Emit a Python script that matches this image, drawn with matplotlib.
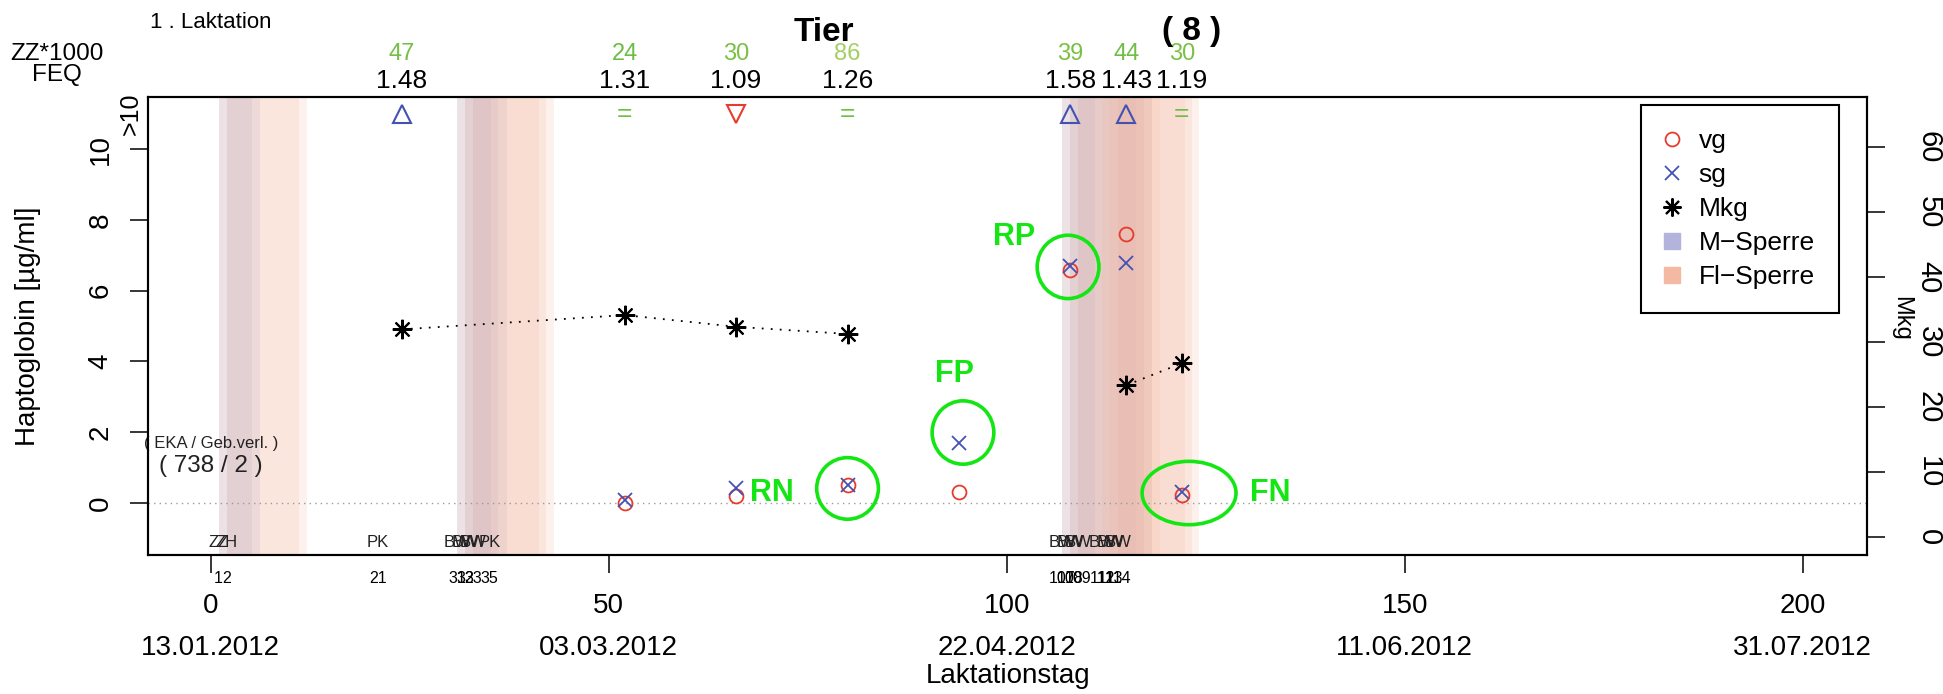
import numpy as np
import matplotlib
matplotlib.use("Agg")
import matplotlib.pyplot as plt
from matplotlib.lines import Line2D
from matplotlib.patches import Ellipse
from matplotlib.transforms import blended_transform_factory

plt.rcParams['font.family'] = ['Liberation Sans', 'DejaVu Sans']

# ---------------- data ----------------
days = [24, 52, 66, 80, 94, 108, 115, 122]
zz1000 = ['47', '24', '30', '86', '', '39', '44', '30']
zz_colors = ['#74BF45', '#6CBD45', '#79C145', '#A3CF62', '#FFFFFF', '#79C145', '#6EBE45', '#7AC145']
feq = ['1.48', '1.31', '1.09', '1.26', '', '1.58', '1.43', '1.19']
vg = [np.nan, 0.0, 0.19, 0.5, 0.3, 6.58, 7.59, 0.23]
sg = [np.nan, 0.09, 0.42, 0.52, 1.69, 6.70, 6.79, 0.30]
mkg = [31.9, 34.1, 32.3, 31.2, np.nan, np.nan, 23.3, 26.7]
status = ['up', '=', 'down', '=', '', 'up', 'up', '=']

event_days = [1, 2, 21, 31, 32, 33, 35, 107, 108, 109, 112, 113, 114]
event_codes = ['ZZ', 'ZH', 'PK', 'BW', 'BW', 'BW', 'PK', 'BW', 'BW', 'BW', 'BW', 'BW', 'BW']

sperre_start = [1, 2, 31, 32, 33, 107, 108, 109, 112, 113, 114]
m_sperre_end = [5.15, 6.2, 35.2, 36.1, 37.2, 111.1, 112.0, 113.1, 116.2, 117.2, 118.2]
fl_sperre_end = [11.1, 12.07, 41.2, 42.1, 43.1, 117.2, 118.2, 119.3, 122.4, 123.3, 124.2]

x_ticks = [0, 50, 100, 150, 200]
x_dates = ['13.01.2012', '03.03.2012', '22.04.2012', '11.06.2012', '31.07.2012']
y_ticks = [0, 2, 4, 6, 8, 10]
mkg_ticks = [0, 10, 20, 30, 40, 50, 60]

# annotations: label, label x, label y, ellipse cx, cy, width, height
ann_labels = ['RP', 'FP', 'RN', 'FN']
ann_text_x = [100.9, 93.4, 70.55, 133.1]
ann_text_y = [7.51, 3.65, 0.27, 0.29]
ann_cx = [107.7, 94.5, 80.0, 122.9]
ann_cy = [6.67, 1.99, 0.41, 0.28]
ann_w = [7.76, 7.75, 7.75, 11.8]
ann_h = [1.79, 1.79, 1.74, 1.79]

# ---------------- styling ----------------
RED = '#E63B2E'
BLUE = '#4352B2'
GREEN_ANN = '#14E614'
EQ_GREEN = '#6DBE45'
M_COL = '#B2B4DB'
FL_COL = '#F5B8A2'

W, H = 1943, 694
fig = plt.figure(figsize=(W / 100, H / 100), dpi=100)
L, R, T, B = 148.3, 1867.3, 96.7, 555.3
ax = fig.add_axes([L / W, 1 - B / H, (R - L) / W, (B - T) / H])
ax.set_xlim(-7.84, 208.1)
ax.set_ylim(-1.48, 11.48)

# Sperre bands
for s, e in zip(sperre_start, m_sperre_end):
    ax.axvspan(s, e, color=M_COL, alpha=0.25, lw=0, zorder=0)
for s, e in zip(sperre_start, fl_sperre_end):
    ax.axvspan(s, e, color=FL_COL, alpha=0.19, lw=0, zorder=0)

# zero line
ax.axhline(0, color='#9A9A9A', lw=1.0, dashes=(1, 3), zorder=1)

# vg / sg
ax.plot(days, vg, linestyle='none', marker='o', mfc='none', mec=RED, ms=10, mew=1.3, zorder=3)
ax.plot(days, sg, linestyle='none', marker='x', color=BLUE, ms=10, mew=1.3, zorder=3)

# status markers at top
for d, s in zip(days, status):
    if s == 'up':
        ax.plot(d, 11, marker='^', mfc='none', mec=BLUE, ms=13, mew=1.5, zorder=3)
    elif s == 'down':
        ax.plot(d, 11, marker='v', mfc='none', mec=RED, ms=13, mew=1.5, zorder=3)
    elif s == '=':
        ax.text(d, 11, '=', color=EQ_GREEN, fontsize=19, ha='center', va='center', zorder=3)

# annotations
for lab, tx, ty, cx, cy, w, h in zip(ann_labels, ann_text_x, ann_text_y, ann_cx, ann_cy, ann_w, ann_h):
    ax.add_patch(Ellipse((cx, cy), w, h, fill=False, ec=GREEN_ANN, lw=2.6, zorder=4))
    ax.text(tx, ty, lab, color=GREEN_ANN, fontsize=22, fontweight='bold', ha='center', va='center', zorder=4)

# event codes and days
tr_xa = blended_transform_factory(ax.transData, ax.transAxes)
for d, c in zip(event_days, event_codes):
    ax.text(d, 0.027, c, transform=tr_xa, fontsize=12, ha='center', va='center', color='#222222', zorder=2)
    ax.text(d, -0.0495, str(d), transform=tr_xa, fontsize=11.5, ha='center', va='center', clip_on=False)

# EKA text
ax.text(0, 1.67, '( EKA / Geb.verl. )', fontsize=12, ha='center', va='center', color='#222222')
ax.text(0, 1.05, '( 738 / 2 )', fontsize=17.5, ha='center', va='center', color='#222222')

# axes styling
for sp in ax.spines.values():
    sp.set_linewidth(1.5)
ax.set_xticks(x_ticks)
ax.set_xticklabels([str(t) for t in x_ticks])
ax.set_yticks(y_ticks)
ax.set_yticklabels([str(t) for t in y_ticks])
ax.tick_params(axis='x', length=13, width=1.1, labelsize=20, pad=14)
ax.tick_params(axis='y', length=13, width=1.1, labelsize=20, pad=12, labelrotation=90)
for lab in ax.get_yticklabels():
    lab.set_va('center')
for d, ds in zip(x_ticks, x_dates):
    ax.text(d, -0.2174, ds, transform=tr_xa, fontsize=20, ha='center', va='baseline', clip_on=False)
ax.text(0.5, -0.279, 'Laktationstag', transform=ax.transAxes, fontsize=20, ha='center', va='baseline')
ax.text(-0.070, 0.5, 'Haptoglobin [µg/ml]', transform=ax.transAxes, fontsize=20, rotation=90,
        ha='center', va='center')
ax.text(-0.0100, 11, '>10', transform=blended_transform_factory(ax.transAxes, ax.transData),
        fontsize=18, rotation=90, ha='center', va='center', clip_on=False)

# right axis Mkg
ax2 = ax.twinx()
ax2.set_ylim(-2.86, 67.7)
ax2.plot(days, mkg, color='black', lw=1.3, dashes=(1, 4), marker=(8, 2, 0), ms=14, mew=1.5, zorder=3)
ax2.set_yticks(mkg_ticks)
ax2.set_yticklabels([str(t) for t in mkg_ticks])
ax2.tick_params(axis='y', length=13, width=1.1, labelsize=21, pad=21, labelrotation=-90)
for lab in ax2.get_yticklabels():
    lab.set_va('center')
for sp in ax2.spines.values():
    sp.set_linewidth(1.5)
ax2.text(1.0196, 0.517, 'Mkg', transform=ax.transAxes, fontsize=17, rotation=270, ha='center', va='center')

# legend
handles = [
    Line2D([], [], linestyle='none', marker='o', mfc='none', mec=RED, ms=10, mew=1.3),
    Line2D([], [], linestyle='none', marker='x', color=BLUE, ms=10, mew=1.3),
    Line2D([], [], linestyle='none', marker=(8, 2, 0), color='black', ms=13, mew=1.5),
    Line2D([], [], linestyle='none', marker='s', color=M_COL, ms=11),
    Line2D([], [], linestyle='none', marker='s', color=FL_COL, ms=11),
]
labels = ['vg', 'sg', 'Mkg', 'M\u2212Sperre', 'Fl\u2212Sperre']
leg = ax2.legend(handles, labels, loc='upper left', bbox_to_anchor=(0.8682, 0.9819),
                 borderaxespad=0, fontsize=19, frameon=True, fancybox=False,
                 borderpad=0.9, handlelength=0.6, handletextpad=0.7, labelspacing=0.38)
leg.get_frame().set_edgecolor('black')
leg.get_frame().set_linewidth(1.5)
leg.get_frame().set_alpha(1)

# top labels
tr_xf = blended_transform_factory(ax.transData, fig.transFigure)
for d, z, zc, f in zip(days, zz1000, zz_colors, feq):
    if z:
        fig.text(d, 1 - 60 / H, z, transform=tr_xf, fontsize=17, color=zc, ha='center', va='baseline')
    if f:
        fig.text(d, 1 - 88 / H, f, transform=tr_xf, fontsize=19, color='black', ha='center', va='baseline')
fig.text(56.8 / W, 1 - 60 / H, 'ZZ*1000', fontsize=17.5, ha='center', va='baseline')
fig.text(56.8 / W, 1 - 81 / H, 'FEQ', fontsize=17.5, ha='center', va='baseline')
fig.text(149.6 / W, 1 - 28.3 / H, '1 . Laktation', fontsize=16, ha='left', va='baseline')
fig.text(824 / W, 1 - 41 / H, 'Tier', fontsize=24, fontweight='bold', ha='center', va='baseline')
fig.text(1192 / W, 1 - 40 / H, '( 8 )', fontsize=24, fontweight='bold', ha='center', va='baseline')

fig.savefig('out.png', dpi=100)
